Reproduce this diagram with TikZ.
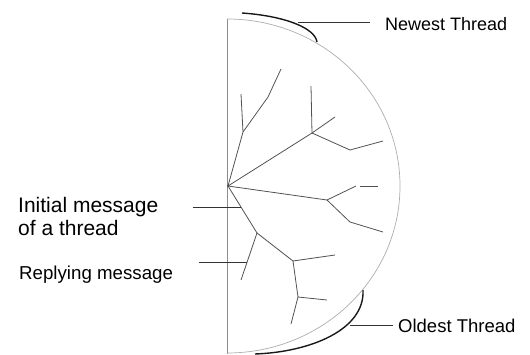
\documentclass[tikz,border=0pt]{standalone}
\usepackage{fontspec}
\setmainfont{Liberation Sans}
\begin{document}
\begin{tikzpicture}[x=1pt,y=-1pt,
  treeline/.style={draw=black!68, line width=0.8pt},
  rim/.style={draw=black!32, line width=0.7pt},
  axisline/.style={draw=black!45, line width=0.7pt},
  boldarc/.style={draw=black!90, line width=1.4pt},
  leader/.style={draw=black!80, line width=0.9pt},
  lbl/.style={anchor=base west, inner sep=0pt, text=black}]
\useasboundingbox (0,0) rectangle (530,354);

% frame of the half disc
\coordinate (top) at (227,19);
\coordinate (bot) at (227,354);
\draw[axisline] (bot) -- (top);
\draw[rim] (top) arc[start angle=-90, end angle=90, x radius=173, y radius=167];

% tree
\coordinate (root) at (228,186);
\coordinate (a) at (243,132);
\coordinate (a1) at (241,94);
\coordinate (a2m) at (268,97);
\coordinate (a2) at (281,69);
\coordinate (b) at (312,133);
\coordinate (b1) at (311,86);
\coordinate (b2) at (335,117);
\coordinate (b3) at (350,150);
\coordinate (b4) at (383,141);
\coordinate (c) at (327,200);
\coordinate (c1) at (356,186);
\coordinate (c1s) at (360,186);
\coordinate (c2) at (378,186);
\coordinate (c3) at (350,222);
\coordinate (c4) at (383,232);
\coordinate (d) at (257,233);
\coordinate (d1) at (241,280);
\coordinate (e) at (293,261);
\coordinate (e1) at (335,255);
\coordinate (f) at (298,297);
\coordinate (f1) at (327,300);
\coordinate (f2) at (291,324);

\draw[treeline] (root) -- (a) -- (a1);
\draw[treeline] (a) -- (a2m) -- (a2);
\draw[treeline] (root) -- (b) -- (b1);
\draw[treeline] (b) -- (b2);
\draw[treeline] (b) -- (b3) -- (b4);
\draw[treeline] (root) -- (c) -- (c1);
\draw[treeline] (c1s) -- (c2);
\draw[treeline] (c) -- (c3) -- (c4);
\draw[treeline] (root) -- (d) -- (d1);
\draw[treeline] (d) -- (e) -- (e1);
\draw[treeline] (e) -- (f) -- (f1);
\draw[treeline] (f) -- (f2);
\fill[black!70] (root) circle[radius=1.1pt];

% newest thread
\coordinate (n0) at (242,13);
\coordinate (n1) at (317,42);
\draw[boldarc] (n0) .. controls (285,16) and (315,28) .. (n1);
\node[lbl, font=\fontsize{18}{21}\selectfont] (newest) at (385,30) {Newest Thread};
\coordinate (nl) at (298,22);
\coordinate (nr) at (370,22);
\draw[leader] (nl) -- (nr);

% oldest thread
\coordinate (o0) at (363,290);
\coordinate (o1) at (255,354);
\draw[boldarc] (o0) .. controls (365,330) and (310,352) .. (o1);
\node[lbl, font=\fontsize{18.5}{21}\selectfont] (oldest) at (398,332) {Oldest Thread};
\coordinate (ol) at (350,325);
\coordinate (or) at (393,325);
\draw[leader] (ol) -- (or);

% left labels
\node[lbl, font=\fontsize{21}{23}\selectfont] (init1) at (18,212) {Initial message};
\node[lbl, font=\fontsize{21}{23}\selectfont] (init2) at (18,235) {of a thread};
\coordinate (il) at (193,207);
\coordinate (ir) at (241,207);
\draw[leader] (il) -- (ir);

\node[lbl, font=\fontsize{18.7}{21}\selectfont] (reply) at (19,279) {Replying message};
\coordinate (rl) at (199,262);
\coordinate (rr) at (247,262);
\draw[leader] (rl) -- (rr);
\end{tikzpicture}
\end{document}
